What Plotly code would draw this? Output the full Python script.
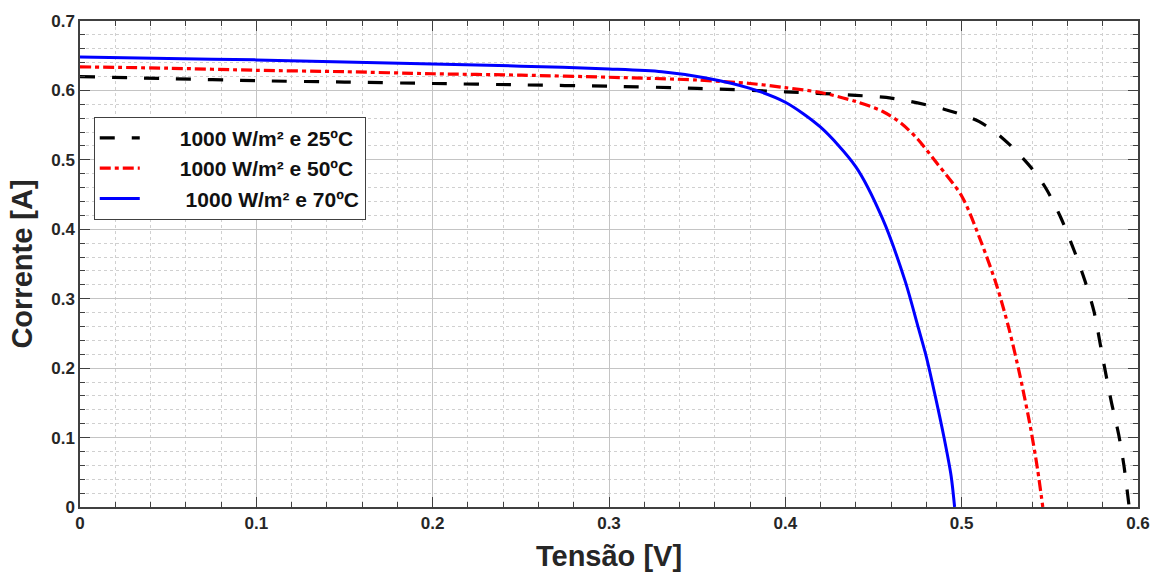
import plotly.graph_objects as go

# ---- data ----
v_25 = [0, 0.05, 0.1, 0.15, 0.2, 0.25, 0.3, 0.35, 0.4, 0.44, 0.46, 0.475, 0.49, 0.5, 0.51,
        0.52, 0.53, 0.54, 0.548, 0.556, 0.564, 0.57, 0.575, 0.58, 0.585, 0.589, 0.592, 0.595]
i_25 = [0.620, 0.617, 0.614, 0.612, 0.610, 0.608, 0.606, 0.603, 0.598, 0.593, 0.589, 0.582,
        0.573, 0.565, 0.555, 0.538, 0.515, 0.487, 0.458, 0.418, 0.368, 0.325, 0.282, 0.215,
        0.150, 0.105, 0.060, 0.0]

v_50 = [0, 0.05, 0.1, 0.15, 0.2, 0.25, 0.3, 0.35, 0.38, 0.4, 0.42, 0.44, 0.455, 0.466,
        0.475, 0.486, 0.5, 0.511, 0.52, 0.527, 0.533, 0.539, 0.543, 0.546]
i_50 = [0.634, 0.632, 0.629, 0.627, 0.624, 0.622, 0.619, 0.615, 0.610, 0.604, 0.597, 0.584,
        0.570, 0.552, 0.530, 0.495, 0.448, 0.382, 0.318, 0.255, 0.190, 0.115, 0.055, 0.0]

v_70 = [0, 0.05, 0.1, 0.15, 0.2, 0.25, 0.3, 0.33, 0.355, 0.38, 0.4, 0.42, 0.44, 0.455,
        0.468, 0.475, 0.48, 0.485, 0.49, 0.494, 0.496]
i_70 = [0.648, 0.646, 0.644, 0.641, 0.638, 0.635, 0.631, 0.627, 0.618, 0.603, 0.583, 0.547,
        0.490, 0.416, 0.325, 0.262, 0.216, 0.160, 0.100, 0.045, 0.0]

names = ["1000 W/m² e 25ºC", "1000 W/m² e 50ºC", " 1000 W/m² e 70ºC"]
x_ticks = [0, 0.1, 0.2, 0.3, 0.4, 0.5, 0.6]
x_tick_labels = ["0", "0.1", "0.2", "0.3", "0.4", "0.5", "0.6"]
y_ticks = [0, 0.1, 0.2, 0.3, 0.4, 0.5, 0.6, 0.7]
y_tick_labels = ["0", "0.1", "0.2", "0.3", "0.4", "0.5", "0.6", "0.7"]

FONT = "Arial, 'Liberation Sans', sans-serif"
pad = "\u00a0" * 6

fig = go.Figure()
fig.add_trace(go.Scatter(x=v_25, y=i_25, mode="lines", name=pad + names[0],
                         line=dict(color="black", width=3.2, dash="15px,17px",
                                   shape="spline", smoothing=0.8)))
fig.add_trace(go.Scatter(x=v_50, y=i_50, mode="lines", name=pad + names[1],
                         line=dict(color="#ff0000", width=3.2, dash="11px,4px,4px,4px",
                                   shape="spline", smoothing=0.8)))
fig.add_trace(go.Scatter(x=v_70, y=i_70, mode="lines", name=pad + "\u00a0" + names[2].strip(),
                         line=dict(color="#0000ff", width=3, shape="spline", smoothing=0.8)))

axis_common = dict(
    showline=True, linecolor="#404040", linewidth=1.5, mirror="allticks",
    ticks="inside", ticklen=10, tickwidth=1.2, tickcolor="#404040",
    showgrid=True, gridcolor="#c4c4c4", gridwidth=1.3,
    zeroline=False,
    tickfont=dict(family=FONT, size=17, color="#262626", weight="bold"),
    minor=dict(ticks="inside", ticklen=5, tickcolor="#404040", tickwidth=1,
               showgrid=True, gridcolor="#d0d0d0", griddash="dot", gridwidth=1),
)

fig.update_xaxes(range=[0, 0.6], tickvals=x_ticks, ticktext=x_tick_labels,
                 title=dict(text="Tensão [V]", standoff=14,
                            font=dict(family=FONT, size=29, color="#262626", weight="bold")),
                 **axis_common)
fig.update_xaxes(minor_dtick=0.02)
fig.update_yaxes(range=[0, 0.7], tickvals=y_ticks, ticktext=y_tick_labels,
                 title=dict(text="Corrente [A]", standoff=10,
                            font=dict(family=FONT, size=29, color="#262626", weight="bold")),
                 **axis_common)
fig.update_yaxes(minor_dtick=0.02)

fig.update_layout(
    width=1165, height=579,
    margin=dict(l=80, r=27, t=16, b=70),
    plot_bgcolor="white", paper_bgcolor="white",
    font=dict(family=FONT),
    legend=dict(x=0.013, y=0.803, xanchor="left", yanchor="top",
                bgcolor="white", bordercolor="#404040", borderwidth=1,
                font=dict(family=FONT, size=21, color="#111111", weight="bold"),
                itemwidth=40, tracegroupgap=0),
    showlegend=True,
)

fig.write_html("out.html")
